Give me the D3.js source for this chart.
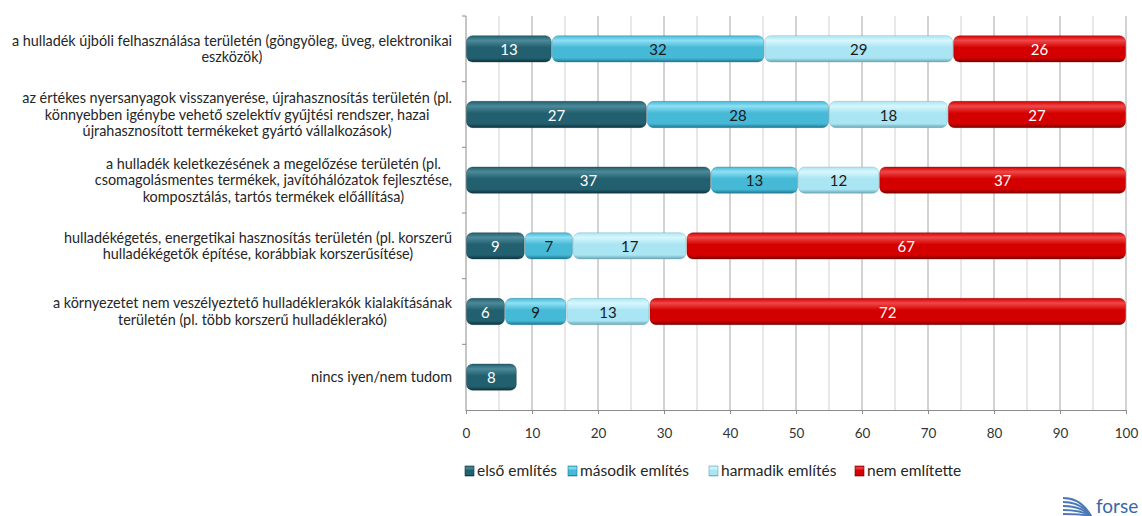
<!DOCTYPE html>
<html>
<head>
<meta charset="utf-8">
<script src="https://cdn.jsdelivr.net/npm/d3@7"></script>
<style>
  body { margin: 0; background: #fff; }
  svg { display: block; font-family: Lato, "Open Sans", sans-serif; }
</style>
</head>
<body>
<svg id="chart" width="1142" height="516"></svg>
<script>
const categories = [
  ["a hulladék újbóli felhasználása területén (göngyöleg, üveg, elektronikai", "eszközök)"],
  ["az értékes nyersanyagok visszanyerése, újrahasznosítás területén (pl.", "könnyebben igénybe vehető szelektív gyűjtési rendszer, hazai", "újrahasznosított termékeket gyártó vállalkozások)"],
  ["a hulladék keletkezésének a megelőzése területén (pl.", "csomagolásmentes termékek, javítóhálózatok fejlesztése,", "komposztálás, tartós termékek előállítása)"],
  ["hulladékégetés, energetikai hasznosítás területén (pl. korszerű", "hulladékégetők építése, korábbiak korszerűsítése)"],
  ["a környezetet nem veszélyeztető hulladéklerakók kialakításának", "területén (pl. több korszerű hulladéklerakó)"],
  ["nincs iyen/nem tudom"]
]
const seriesNames = ["első említés", "második említés", "harmadik említés", "nem említette"]
// percentages; labels show them rounded
const elso = [13.0, 27.4, 37.1, 8.9, 5.9, 7.7]
const masodik = [32.2, 27.6, 13.2, 7.3, 9.3, 0]
const harmadik = [28.6, 18.0, 12.3, 17.2, 12.6, 0]
const nem = [26.2, 27.0, 37.4, 66.6, 72.2, 0]
const xTicks = [0, 10, 20, 30, 40, 50, 60, 70, 80, 90, 100]

// colours per series: [top, mid, bottom, text]
const palette = [
  ["#4d8a99", "#22606f", "#0d3540", "#ffffff"],
  ["#8fe0f4", "#45b9d6", "#1f7891", "#1a1a1a"],
  ["#d8f7fd", "#a9e5f3", "#6aa6b5", "#1a1a1a"],
  ["#f04848", "#d40000", "#7a0000", "#ffffff"]
]

const svg = d3.select('#chart')
const allSeries = [elso, masodik, harmadik, nem]
const rows = categories.map((c, i) => ({ i, lines: c, vals: allSeries.map(s => s[i]) }))

const x = d3.scaleLinear().domain([0, 100]).range([466, 1126])
const y = d3.scaleBand().domain(d3.range(categories.length)).range([16, 410]).paddingInner(0.6).paddingOuter(0.3)

const defs = svg.append('defs')
palette.forEach((p, k) => {
  const g = defs.append('linearGradient').attr('id', 'g' + k)
    .attr('x1', 0).attr('y1', 0).attr('x2', 0).attr('y2', 1)
  g.append('stop').attr('offset', '0%').attr('stop-color', p[1])
  g.append('stop').attr('offset', '18%').attr('stop-color', p[0])
  g.append('stop').attr('offset', '45%').attr('stop-color', p[1])
  g.append('stop').attr('offset', '85%').attr('stop-color', p[1])
  g.append('stop').attr('offset', '100%').attr('stop-color', p[2])
})

// gridlines every 5
svg.append('g').selectAll('line')
  .data(d3.range(5, 101, 5))
  .enter().append('line')
  .attr('x1', d => x(d)).attr('x2', d => x(d))
  .attr('y1', 16).attr('y2', 410)
  .attr('stroke', d => d % 10 === 0 ? '#a6a6a6' : '#d0d0d0')
  .attr('stroke-width', 1)

// axes
svg.append('line').attr('x1', x(0)).attr('x2', x(0)).attr('y1', 16).attr('y2', 411)
  .attr('stroke', '#8c8c8c')
svg.append('line').attr('x1', x(0) - 4).attr('x2', x(0)).attr('y1', 16).attr('y2', 16)
  .attr('stroke', '#8c8c8c')
svg.append('g').selectAll('line')
  .data(d3.range(1, categories.length))
  .enter().append('line')
  .attr('x1', x(0) - 4).attr('x2', x(0))
  .attr('y1', d => 16 + d * (394 / 6)).attr('y2', d => 16 + d * (394 / 6))
  .attr('stroke', '#8c8c8c')

const xAxis = svg.append('g')
  .attr('transform', 'translate(0,410)')
  .call(d3.axisBottom(x).tickValues(xTicks).tickSize(4).tickPadding(14))
xAxis.select('.domain').attr('stroke', '#8c8c8c')
xAxis.selectAll('line').attr('stroke', '#8c8c8c')
xAxis.selectAll('text').attr('font-size', 13.5).attr('fill', '#333')
  .style('font-family', 'Lato, sans-serif')

// category labels
const labelRight = 452
const lineH = 16.5
rows.forEach(r => {
  const g = svg.append('g')
  const n = r.lines.length
  const cy = y(r.i) + y.bandwidth() / 2
  const texts = g.selectAll('text').data(r.lines).enter().append('text')
    .attr('y', (d, j) => cy + (j - (n - 1) / 2) * lineH)
    .attr('dy', '0.35em')
    .attr('font-size', 14.4)
    .attr('fill', '#262626')
    .attr('text-anchor', 'middle')
    .text(d => d)
  let maxW = 0
  texts.each(function () { maxW = Math.max(maxW, this.getComputedTextLength()) })
  texts.attr('x', labelRight - maxW / 2)
})

// bars
const fmt = d3.format('.0f')
const stackData = d3.stack().keys([0, 1, 2, 3]).value((d, k) => d.vals[k])(rows)
stackData.forEach((layer, k) => {
  const g = svg.append('g')
  const segs = layer.map((s, i) => ({ x0: s[0], x1: s[1], i, v: rows[i].vals[k] })).filter(d => d.v > 0)
  g.selectAll('rect').data(segs).enter().append('rect')
    .attr('x', d => x(d.x0) + 0.5)
    .attr('width', d => x(d.x1) - x(d.x0) - 1)
    .attr('y', d => y(d.i))
    .attr('height', y.bandwidth())
    .attr('rx', 6).attr('ry', 6)
    .attr('fill', 'url(#g' + k + ')')
    .attr('stroke', palette[k][2])
    .attr('stroke-opacity', 0.35)
  g.selectAll('text').data(segs).enter().append('text')
    .attr('x', d => (x(d.x0) + x(d.x1)) / 2)
    .attr('y', d => y(d.i) + y.bandwidth() / 2)
    .attr('dy', '0.4em')
    .attr('text-anchor', 'middle')
    .attr('font-size', 15)
    .attr('fill', palette[k][3])
    .text(d => fmt(d.v))
})

// legend
const legendX = [465, 568, 709, 855]
const legend = svg.selectAll('.legend')
  .data(seriesNames)
  .enter().append('g')
  .attr('class', 'legend')
  .attr('transform', (d, i) => `translate(${legendX[i]},471)`)
legend.append('rect')
  .attr('x', 0).attr('y', -5).attr('width', 9).attr('height', 10)
  .attr('fill', (d, i) => 'url(#g' + i + ')')
  .attr('stroke', (d, i) => palette[i][2]).attr('stroke-width', 0.6)
legend.append('text')
  .attr('x', 12).attr('dy', '0.35em')
  .attr('font-size', 15.5).attr('fill', '#262626')
  .text(d => d)

// logo
const logo = svg.append('g').attr('transform', 'translate(1063,496)')
logo.selectAll('path').data(d3.range(5)).enter().append('path')
  .attr('d', d => `M0,${2 + d * 4} Q18,${2 + d * 4} 28,${20}`)
  .attr('fill', 'none').attr('stroke', '#4b79b5').attr('stroke-width', 2)
logo.append('text').attr('x', 33).attr('y', 17)
  .attr('font-size', 19).attr('fill', '#3569a8').text('forse')
</script>
</body>
</html>
